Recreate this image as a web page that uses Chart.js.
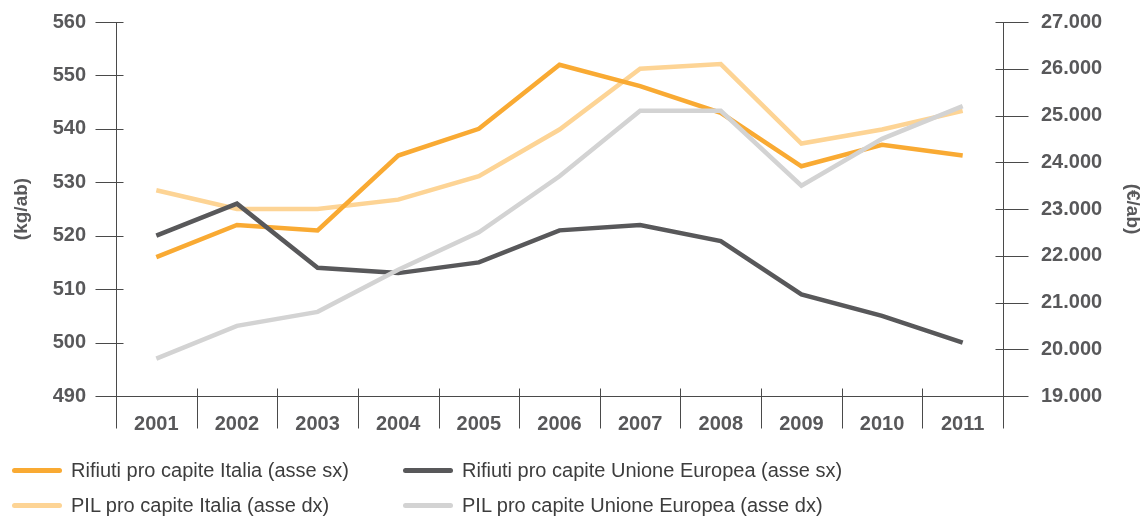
<!DOCTYPE html>
<html>
<head>
<meta charset="utf-8">
<script src="https://cdn.jsdelivr.net/npm/chart.js@4.4.1/dist/chart.umd.min.js"></script>
<style>
  html, body { margin: 0; padding: 0; background: #fff; }
  #wrap { position: relative; width: 1144px; height: 516px; }
  #legend { position: absolute; left: 0; top: 0; width: 1144px; height: 516px; pointer-events: none; }
  .item { position: absolute; display: flex; align-items: center; font-family: "Liberation Sans Narrow", "Liberation Sans", Arial, sans-serif; font-size: 20px; color: #3d3d3d; white-space: nowrap; }
  .swatch { width: 50px; height: 5px; border-radius: 3px; margin-right: 9px; }
</style>
</head>
<body>
<div id="wrap">
  <canvas id="myChart" width="1144" height="516"></canvas>
  <div id="legend"></div>
</div>
<script>
const years = ["2001", "2002", "2003", "2004", "2005", "2006", "2007", "2008", "2009", "2010", "2011"];

// kg per abitante (asse sx)
const rifiutiItalia = [516, 522, 521, 535, 540, 552, 548, 543, 533, 537, 535];
const rifiutiUE = [520, 526, 514, 513, 515, 521, 522, 519, 509, 505, 500];

// euro per abitante (asse dx)
const pilItalia = [23400, 23000, 23000, 23200, 23700, 24700, 26000, 26100, 24400, 24700, 25100];
const pilUE = [19800, 20500, 20800, 21700, 22500, 23700, 25100, 25100, 23500, 24500, 25200];

const legendLabels = [
  "Rifiuti pro capite Italia (asse sx)",
  "Rifiuti pro capite Unione Europea (asse sx)",
  "PIL pro capite Italia (asse dx)",
  "PIL pro capite Unione Europea (asse dx)",
];

const orange = "#F9AA33";
const darkGrey = "#58585A";
const lightOrange = "#FDD495";
const lightGrey = "#D3D3D3";
const textGrey = "#58585A";

const dot = (v) => String(v).replace(/\B(?=(\d{3})+(?!\d))/g, ".");

// axis lines, tick marks and category separators
const axisMarks = {
  id: "axisMarks",
  afterDraw(chart) {
    const { ctx, chartArea: a, scales } = chart;
    const x = scales.x, yl = scales.y, yr = scales.y1;
    ctx.save();
    ctx.strokeStyle = "#4a4a4a";
    ctx.lineWidth = 1;
    ctx.beginPath();
    const L = Math.round(a.left) + 0.5;
    const R = Math.round(a.right) + 0.5;
    const B = Math.round(a.bottom) + 0.5;
    ctx.moveTo(L, a.top); ctx.lineTo(L, B + 32);
    ctx.moveTo(R, a.top); ctx.lineTo(R, B + 32);
    yl.ticks.forEach((t) => {
      const py = Math.round(yl.getPixelForValue(t.value)) + 0.5;
      ctx.moveTo(L - 21, py); ctx.lineTo(L + 7, py);
    });
    yr.ticks.forEach((t) => {
      const py = Math.round(yr.getPixelForValue(t.value)) + 0.5;
      ctx.moveTo(R - 8, py); ctx.lineTo(R + 25, py);
    });
    ctx.moveTo(L, B); ctx.lineTo(R, B);
    for (let i = 0; i < years.length - 1; i++) {
      const px = Math.round((x.getPixelForTick(i) + x.getPixelForTick(i + 1)) / 2) + 0.5;
      ctx.moveTo(px, B - 8); ctx.lineTo(px, B + 32);
    }
    ctx.stroke();
    ctx.restore();
  },
};

const tickFont = { family: "'Liberation Sans', Arial, sans-serif", size: 20, weight: "bold" };
const titleFont = { family: "'Liberation Sans', Arial, sans-serif", size: 19, weight: "bold" };

const ctx = document.getElementById("myChart").getContext("2d");

const myChart = new Chart(ctx, {
  type: "line",
  data: {
    labels: years,
    datasets: [
      { label: legendLabels[0], data: rifiutiItalia, yAxisID: "y", borderColor: orange, order: 2 },
      { label: legendLabels[1], data: rifiutiUE, yAxisID: "y", borderColor: darkGrey, order: 1 },
      { label: legendLabels[2], data: pilItalia, yAxisID: "y1", borderColor: lightOrange, order: 3 },
      { label: legendLabels[3], data: pilUE, yAxisID: "y1", borderColor: lightGrey, order: 0 },
    ],
  },
  options: {
    responsive: false,
    animation: false,
    layout: { padding: { top: 22, left: 0, right: 0, bottom: 0 } },
    elements: {
      line: { borderWidth: 4.5, tension: 0, fill: false },
      point: { radius: 0 },
    },
    plugins: { legend: { display: false }, tooltip: { enabled: false } },
    scales: {
      x: {
        offset: true,
        grid: { display: false },
        border: { display: false },
        ticks: { color: textGrey, font: tickFont, padding: 8, maxRotation: 0 },
        afterFit: (s) => { s.height = 120; },
      },
      y: {
        position: "left",
        min: 490,
        max: 560,
        grid: { display: false },
        border: { display: false },
        ticks: { stepSize: 10, color: textGrey, font: tickFont, padding: 22 },
        title: { display: true, text: "(kg/ab)", color: textGrey, font: titleFont, padding: { top: 10, bottom: 0 } },
        afterFit: (s) => { s.width = 116; s.paddingTop = 0; s.paddingBottom = 0; },
      },
      y1: {
        position: "right",
        min: 19000,
        max: 27000,
        grid: { display: false },
        border: { display: false },
        ticks: { stepSize: 1000, color: textGrey, font: tickFont, padding: 30, callback: (v) => dot(v) },
        title: { display: true, text: "(€/ab)", color: textGrey, font: titleFont, padding: { top: 0, bottom: 0 } },
        afterFit: (s) => { s.width = 141; s.paddingTop = 0; s.paddingBottom = 0; },
      },
    },
  },
  plugins: [axisMarks],
});

// legend in two columns under the chart
const legend = document.getElementById("legend");
const colors = [orange, darkGrey, lightOrange, lightGrey];
const spots = [[12, 470], [403, 470], [12, 505], [403, 505]];
legendLabels.forEach((name, i) => {
  const el = document.createElement("div");
  el.className = "item";
  el.style.left = spots[i][0] + "px";
  el.style.top = (spots[i][1] - 12) + "px";
  el.style.height = "24px";
  el.innerHTML = '<span class="swatch" style="background:' + colors[i] + '"></span><span>' + name + "</span>";
  legend.appendChild(el);
});
</script>
</body>
</html>
